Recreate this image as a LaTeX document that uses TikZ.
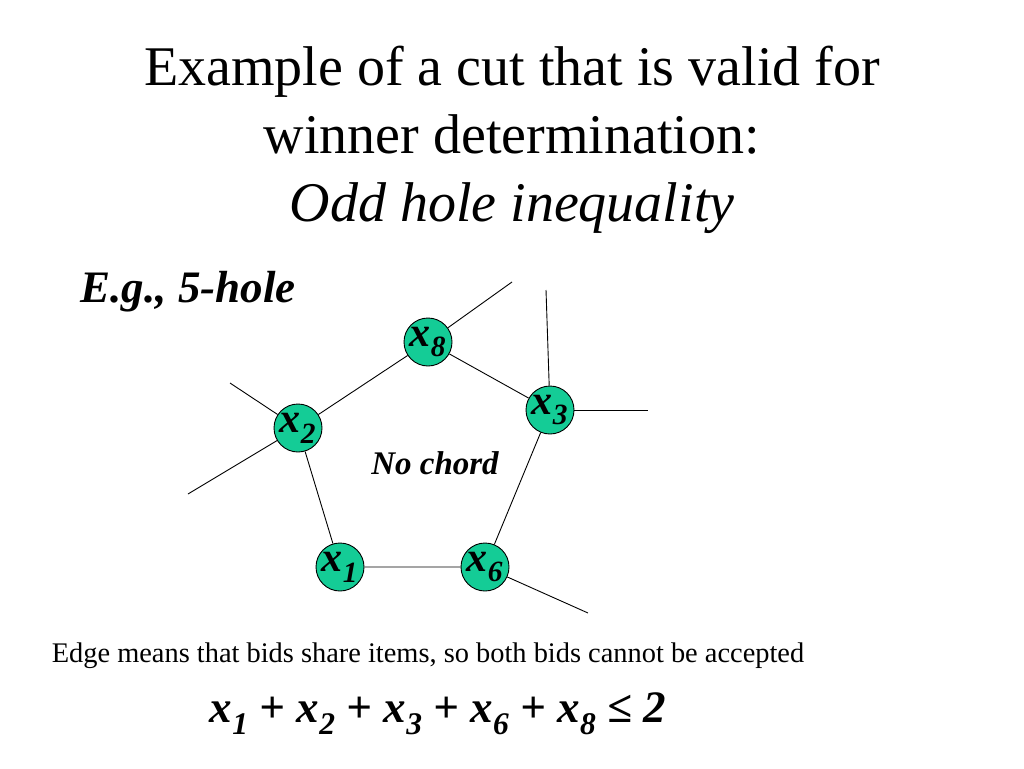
\documentclass[tikz,border=0pt]{standalone}
\usepackage{fontspec}
\setmainfont{Liberation Serif}
\usetikzlibrary{positioning}
\definecolor{bidgreen}{RGB}{20,204,150}
\tikzset{bid/.style={circle,draw=black,fill=bidgreen,minimum size=48pt,inner sep=0pt,font=\fontsize{42}{42}\bfseries\itshape}}
\tikzset{inv/.style={inner sep=0pt,minimum size=0pt}}
\newcommand{\bx}[1]{x\textsubscript{#1}}

\begin{document}
\begin{tikzpicture}[x=1pt,y=-1pt,line width=0.9pt]
\useasboundingbox (0,0) rectangle (1024,768);
\node[align=center,font=\fontsize{56}{68}\selectfont] (title) at (512,140)
  {Example of a cut that is valid for\\winner determination:\\\textit{Odd hole inequality}};
\node[font=\fontsize{45}{45}\bfseries\itshape] (eg) at (188,292) {E.g., 5-hole};

\node[bid](x8) at (428,342){\bx{8}};
\node[bid](x3) at (550,410){\bx{3}};
\node[bid](x2) at (298,428){\bx{2}};
\node[bid](x1) at (340,567){\bx{1}};
\node[bid](x6) at (485,567){\bx{6}};
\node[font=\fontsize{33}{33}\bfseries\itshape] (nochord) at (435,463){No chord};

% hole
\draw (x8)--(x3)--(x6)--(x1)--(x2)--(x8);

% other edges
\coordinate (a) at (512,282);
\coordinate (b) at (546,290);
\coordinate (c) at (648,410);
\coordinate (d) at (230,383);
\coordinate (e) at (188,494);
\coordinate (f) at (588,613);
\draw (x8)--(a);
\draw (x3)--(b);
\draw (x3)--(c);
\draw (x2)--(d);
\draw (x2)--(e);
\draw (x6)--(f);

\node[font=\fontsize{28.4}{28.4}\selectfont] (note) at (428,656)
  {Edge means that bids share items, so both bids cannot be accepted};
\node[font=\fontsize{45}{45}\bfseries\itshape] (ineq) at (438,714)
  {\bx{1} + \bx{2} + \bx{3} + \bx{6} + \bx{8} ≤ 2};
\end{tikzpicture}
\end{document}
